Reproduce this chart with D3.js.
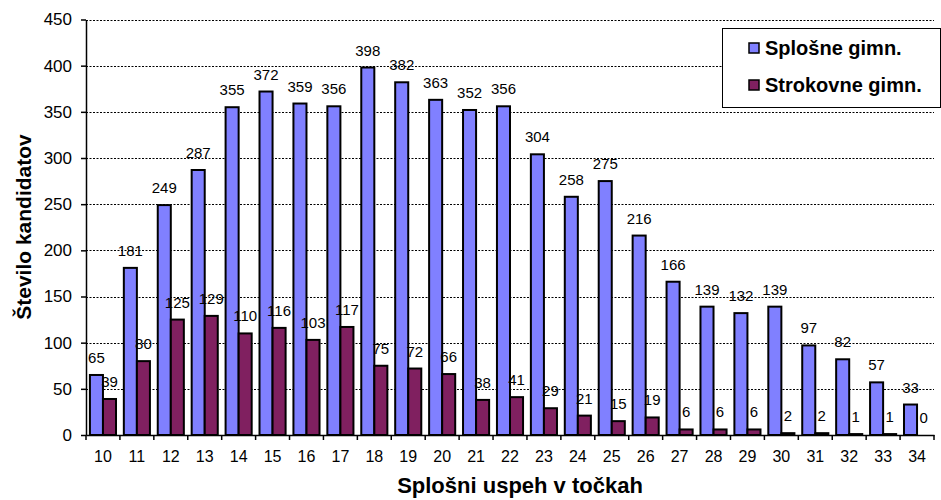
<!DOCTYPE html>
<html>
<head>
<meta charset="utf-8">
<script src="https://cdn.jsdelivr.net/npm/d3@7/dist/d3.min.js"></script>
<style>
  body { margin: 0; background: #fff; }
  svg text { font-family: "Liberation Sans", Arial, sans-serif; fill: #000; }
</style>
</head>
<body>
<div id="chart"></div>
<script>
// data
const categories = ["10","11","12","13","14","15","16","17","18","19","20","21","22",
                    "23","24","25","26","27","28","29","30","31","32","33","34"];
const seriesNames = ["Splošne gimn.", "Strokovne gimn."];
const splosne = [65,181,249,287,355,372,359,356,398,382,363,352,356,304,258,275,216,166,139,132,139,97,82,57,33];
const strokovne = [39,80,125,129,110,116,103,117,75,72,66,38,41,29,21,15,19,6,6,6,2,2,1,1,0];
const yTicks = [0,50,100,150,200,250,300,350,400,450];
const colors = ["#8080ff", "#802060"];

const width = 941, height = 500;
const margin = { top: 19.5, right: 7, bottom: 65, left: 86 };

const svg = d3.select("#chart").append("svg")
    .attr("width", width)
    .attr("height", height);

const x = d3.scaleBand()
    .domain(categories)
    .range([margin.left, width - margin.right]);

const xSub = d3.scaleBand()
    .domain(seriesNames)
    .range([0, x.bandwidth()])
    .paddingOuter(0.3);

const y = d3.scaleLinear()
    .domain([0, 450])
    .range([height - margin.bottom, margin.top]);

// dashed gridlines
svg.append("g")
    .selectAll("line")
    .data(yTicks.filter(d => d > 0))
    .join("line")
    .attr("x1", margin.left)
    .attr("x2", width - margin.right)
    .attr("y1", d => Math.round(y(d)) + 0.5)
    .attr("y2", d => Math.round(y(d)) + 0.5)
    .attr("stroke", "#000")
    .attr("stroke-width", 1)
    .attr("stroke-dasharray", "2,1.5");

const rows = categories.map((c, i) => ({ cat: c, values: [splosne[i], strokovne[i]] }));

// bars
const groups = svg.append("g")
    .selectAll("g")
    .data(rows)
    .join("g")
    .attr("transform", d => `translate(${x(d.cat)},0)`);

groups.selectAll("rect")
    .data(d => d.values.map((v, k) => ({ name: seriesNames[k], value: v, k })))
    .join("rect")
    .attr("x", d => xSub(d.name))
    .attr("width", xSub.bandwidth())
    .attr("y", d => y(d.value))
    .attr("height", d => y(0) - y(d.value))
    .attr("fill", d => colors[d.k])
    .attr("stroke", "#000")
    .attr("stroke-width", 2);

// value labels
groups.selectAll("text")
    .data(d => d.values.map((v, k) => ({ name: seriesNames[k], value: v })))
    .join("text")
    .attr("x", d => xSub(d.name) + xSub.bandwidth() / 2)
    .attr("y", d => y(d.value) - 12)
    .attr("text-anchor", "middle")
    .style("font-size", "15px")
    .text(d => d.value);

// y axis
const yAxis = svg.append("g")
    .attr("transform", `translate(${margin.left},0)`)
    .call(d3.axisLeft(y).tickValues(yTicks).tickSize(5).tickPadding(9).tickSizeOuter(0));
yAxis.select(".domain").attr("stroke", "#000").attr("stroke-width", 1.5);
yAxis.selectAll(".tick line").attr("stroke", "#000").attr("stroke-width", 1.5);
yAxis.selectAll(".tick text").style("font-size", "17px").attr("fill", "#222");

// x axis, ticks between categories
const xAxis = svg.append("g")
    .attr("transform", `translate(0,${y(0)})`)
    .call(d3.axisBottom(x).tickSize(0).tickPadding(16));
xAxis.select(".domain").attr("stroke", "#000").attr("stroke-width", 1.5);
xAxis.selectAll(".tick text").style("font-size", "16px").attr("fill", "#222");

svg.append("g")
    .selectAll("line")
    .data(categories.concat(["end"]))
    .join("line")
    .attr("x1", d => d === "end" ? x.range()[1] : x(d))
    .attr("x2", d => d === "end" ? x.range()[1] : x(d))
    .attr("y1", y(0))
    .attr("y2", y(0) + 5)
    .attr("stroke", "#000")
    .attr("stroke-width", 1.5);

// axis titles
svg.append("text")
    .attr("x", 520)
    .attr("y", 493)
    .attr("text-anchor", "middle")
    .style("font-size", "22px")
    .style("font-weight", "bold")
    .text("Splošni uspeh v točkah");

svg.append("text")
    .attr("transform", "translate(31,227) rotate(-90)")
    .attr("text-anchor", "middle")
    .style("font-size", "21px")
    .style("font-weight", "bold")
    .text("Število kandidatov");

// legend
const legend = svg.append("g").attr("transform", "translate(722,28)");
legend.append("rect")
    .attr("x", 0.5).attr("y", 0.5)
    .attr("width", 218).attr("height", 79)
    .attr("fill", "#fff")
    .attr("stroke", "#000")
    .attr("stroke-width", 1);

const items = legend.selectAll("g.item")
    .data(seriesNames)
    .join("g")
    .attr("class", "item")
    .attr("transform", (d, i) => `translate(27,${20 + i * 37})`);

items.append("rect")
    .attr("width", 10).attr("height", 10)
    .attr("y", -5)
    .attr("fill", (d, i) => colors[i])
    .attr("stroke", "#000")
    .attr("stroke-width", 1.5);

items.append("text")
    .attr("x", 16)
    .attr("y", 7)
    .style("font-size", "20px")
    .style("font-weight", "bold")
    .text(d => d);
</script>
</body>
</html>
